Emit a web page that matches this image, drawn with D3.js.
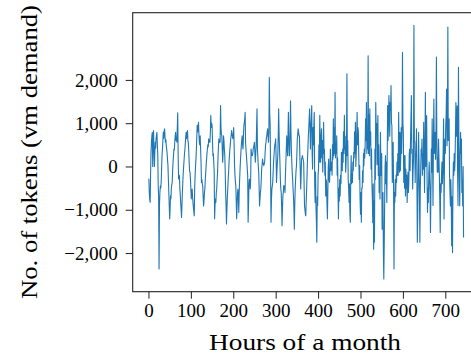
<!DOCTYPE html>
<html>
<head>
<meta charset="utf-8">
<script src="https://cdn.jsdelivr.net/npm/d3@7"></script>
<style>
  html, body { margin: 0; padding: 0; background: #fff; }
  svg { display: block; }
  .tick text { font-family: "Liberation Serif", "DejaVu Serif", serif; fill: #000; }
  .axis-label { font-family: "Liberation Serif", "DejaVu Serif", serif; fill: #000; }
</style>
</head>
<body>
<svg id="chart" width="471" height="356"></svg>
<script>
"use strict";

/* ── Data: tokens per hour (vm demand), one row per day ─────── */
const tokens = [
  -300,-290,-600,-760,-830,-200,330,560,700,790,0,520,830,400,0,300,560,420,650,720,790,500,250,-440,
  -700,-2370,-900,-600,-450,-500,-370,-50,250,400,600,790,650,820,870,700,560,620,480,400,300,150,20,-300,
  -600,-900,-1210,-1000,-680,-750,-500,-420,-370,-100,100,250,400,380,560,700,790,600,650,560,900,1240,300,-290,
  -200,-210,-500,-650,-830,-1000,-1180,-900,-600,-370,-150,0,150,300,405,550,700,790,650,750,830,600,560,350,
  100,-100,-130,-300,-500,-750,-600,-520,-700,-830,-950,-1050,-1140,-500,-210,0,170,400,700,950,800,900,1020,750,
  560,500,710,400,100,-370,-300,-400,-450,-700,-910,-800,-600,-520,-300,-150,20,150,300,405,500,450,640,600,
  560,560,800,1180,900,1000,950,600,250,300,100,-130,-1210,-900,-750,-830,-600,-520,-300,-130,200,450,640,550,
  600,560,1410,900,750,710,400,100,300,710,600,400,250,-100,-600,-900,-1330,-1000,-700,-520,-300,-130,100,250,
  405,500,640,700,830,750,700,640,750,900,500,19,-200,-350,-450,-800,-1210,-900,-600,-520,-700,-1060,-600,-300,
  -60,150,330,500,600,710,500,400,700,950,1000,1100,1250,560,400,250,100,-50,-210,-1290,-900,-400,-290,-400,
  -520,-300,405,300,250,250,300,405,450,500,560,300,100,300,480,900,1330,400,200,0,-130,-500,-910,-750,
  -600,-520,-300,-60,50,170,100,50,19,60,100,300,480,550,650,710,800,870,700,560,800,2060,1200,950,
  -200,-1290,-800,-520,-450,-370,-150,100,250,405,500,550,640,200,-370,-100,100,250,700,1330,800,405,100,-290,
  -500,-600,-900,-1370,-1000,-680,-600,-440,-450,-500,-600,-200,100,400,710,500,250,700,1250,600,250,250,800,1520,
  800,400,100,-130,-300,-520,-700,-1000,-1450,-900,-520,-300,-100,20,300,640,750,870,800,710,710,250,-100,-520,
  -200,170,200,250,200,150,100,-400,-910,-1000,-1100,-1140,-800,-520,-200,170,400,700,870,1100,1330,900,405,900,
  1100,1410,300,-60,900,500,950,1250,-400,-830,-130,-900,-1290,-1750,-700,-900,-200,-60,500,100,1180,300,100,700,
  870,200,600,-130,400,1020,300,405,-200,100,-680,-300,-370,-900,-1210,-600,0,170,-300,-370,-100,405,-100,20,
  100,-200,500,170,1100,250,900,300,1715,200,560,300,710,-200,200,-600,-1210,-500,-800,-300,-680,-200,-400,330,
  300,-100,400,100,800,300,1180,400,700,-130,100,500,2140,250,600,-290,-500,-830,-400,-1100,-1290,-300,250,-400,
  -200,-370,100,-100,330,200,800,300,1020,0,300,700,1250,500,900,790,200,-300,20,-750,-1100,-600,-1290,-500,
  -500,-100,-370,300,20,405,200,480,1100,600,1480,300,700,405,2560,300,1200,250,1330,500,800,-60,405,-400,
  -750,-1300,-400,-1910,-800,-1750,400,-300,1480,790,1000,40,600,1176,-210,500,-600,-210,-750,790,100,-210,300,-1450,
  -1300,-600,-2000,-2600,-1750,-800,0,250,-400,100,-830,200,1410,600,1020,1640,1180,700,1480,1300,1870,1000,950,-370,
  300,560,-500,-2370,-600,-830,-300,-680,-200,-370,100,-210,300,-200,1250,200,-130,790,-100,250,900,300,870,2640,
  1000,790,-370,250,-500,250,-680,-60,-500,-200,-830,-400,-130,-600,-370,300,405,-100,600,1100,1640,300,405,-520,
  -100,170,3260,600,560,-370,300,250,870,-300,-1750,-1140,-200,790,100,-680,-1750,-500,-60,400,250,636,-200,300,
  -60,1020,200,-600,500,1716,0,600,1176,-300,-1060,-500,-830,-200,100,-300,-600,-1525,-700,400,-130,1100,200,-900,
  600,1560,300,700,790,170,700,2526,636,-130,200,-130,636,200,-210,-800,-1525,-400,-600,-200,100,-400,-130,400,
  1100,-1215,100,636,300,945,1200,1790,480,900,3220,600,636,1100,-200,-600,-910,-300,-750,-1830,-700,-1990,-500,100,
  -210,300,-100,170,800,1480,700,1100,1400,-200,-900,2290,636,-200,-910,200,790,300,636,-600,-300,-910,0,-1640
];

const xTicks = [0, 100, 200, 300, 400, 500, 600, 700];
const yTicks = [-2000, -1000, 0, 1000, 2000];

const X_LABEL = "Hours of a month";
const Y_LABEL = "No. of tokens (vm demand)";

(function () {
  /* ── Layout (axes box runs past the right edge, as in the source) ── */
  const BOX = { left: 132.7, top: 12.7, right: 479.3, bottom: 291.7 };
  const COLOR = "#1f77b4";

  const svg = d3.select("#chart");
  svg.append("rect").attr("width", 471).attr("height", 356).attr("fill", "#fff");

  /* Scales with matplotlib-like 5% margins */
  const n = tokens.length;
  const xPad = (n - 1) * 0.05;
  const x = d3.scaleLinear()
    .domain([-xPad, (n - 1) + xPad])
    .range([BOX.left, BOX.right]);

  const [yMin, yMax] = d3.extent(tokens);
  const yPad = (yMax - yMin) * 0.05;
  const y = d3.scaleLinear()
    .domain([yMin - yPad, yMax + yPad])
    .range([BOX.bottom, BOX.top]);

  /* Series */
  const line = d3.line()
    .x((d, i) => x(i))
    .y((d) => y(d));

  svg.append("path")
    .datum(tokens)
    .attr("fill", "none")
    .attr("stroke", COLOR)
    .attr("stroke-width", 1.1)
    .attr("stroke-linejoin", "round")
    .attr("d", line);

  /* Frame */
  svg.append("rect")
    .attr("x", BOX.left).attr("y", BOX.top)
    .attr("width", BOX.right - BOX.left)
    .attr("height", BOX.bottom - BOX.top)
    .attr("fill", "none")
    .attr("stroke", "#222")
    .attr("stroke-width", 1.1);

  /* Axes */
  const fmt = d3.format(",");

  svg.append("g")
    .attr("transform", `translate(0,${BOX.bottom})`)
    .call(d3.axisBottom(x).tickValues(xTicks).tickSize(7).tickPadding(5).tickFormat(fmt))
    .call((g) => {
      g.select(".domain").remove();
      g.selectAll(".tick line").attr("stroke", "#222").attr("stroke-width", 1);
      g.selectAll(".tick text").attr("font-size", 19);
    });

  svg.append("g")
    .attr("transform", `translate(${BOX.left},0)`)
    .call(d3.axisLeft(y).tickValues(yTicks).tickSize(7).tickPadding(8).tickFormat(fmt))
    .call((g) => {
      g.select(".domain").remove();
      g.selectAll(".tick line").attr("stroke", "#222").attr("stroke-width", 1);
      g.selectAll(".tick text").attr("font-size", 19);
    });

  /* Axis labels (slightly widened toward the original's LaTeX font) */
  svg.append("text")
    .attr("class", "axis-label")
    .attr("x", 305).attr("y", 350)
    .attr("text-anchor", "middle")
    .attr("font-size", 23.5)
    .attr("textLength", 192)
    .attr("lengthAdjust", "spacingAndGlyphs")
    .text(X_LABEL);

  svg.append("text")
    .attr("class", "axis-label")
    .attr("transform", "translate(37,152) rotate(-90)")
    .attr("text-anchor", "middle")
    .attr("font-size", 23.5)
    .attr("textLength", 294)
    .attr("lengthAdjust", "spacingAndGlyphs")
    .text(Y_LABEL);
})();
</script>
</body>
</html>
